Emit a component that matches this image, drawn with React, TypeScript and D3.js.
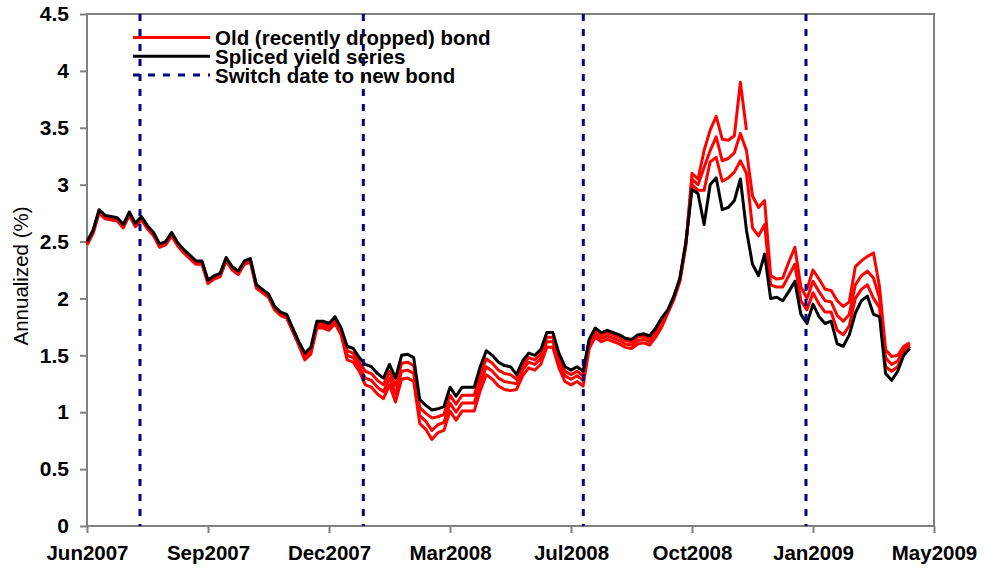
import { useEffect, useRef } from 'react';
import * as d3 from 'd3';

// category axis: one point per sampled trading day, labels every 20 points
const tickLabels = ['Jun2007', 'Sep2007', 'Dec2007', 'Mar2008', 'Jul2008', 'Oct2008', 'Jan2009', 'May2009'];
const yTicks = [0, 0.5, 1, 1.5, 2, 2.5, 3, 3.5, 4, 4.5];

// switch dates to a new bond (in sample index units)
const switchDates = [8.76, 45.67, 82.03, 118.84];

const spliced = [
  2.50, 2.60, 2.78, 2.73, 2.72, 2.71, 2.65, 2.76, 2.66, 2.72,
  2.64, 2.58, 2.48, 2.50, 2.58, 2.49, 2.43, 2.38, 2.33, 2.33,
  2.16, 2.20, 2.22, 2.36, 2.28, 2.24, 2.33, 2.35, 2.12, 2.08,
  2.04, 1.93, 1.88, 1.86, 1.74, 1.62, 1.52, 1.57, 1.80, 1.80,
  1.78, 1.84, 1.74, 1.58, 1.56, 1.48, 1.42, 1.40, 1.34, 1.30,
  1.42, 1.30, 1.50, 1.51, 1.48, 1.11, 1.06, 1.02, 1.03, 1.05,
  1.22, 1.14, 1.22, 1.22, 1.22, 1.40, 1.54, 1.50, 1.44, 1.41,
  1.40, 1.33, 1.45, 1.52, 1.50, 1.55, 1.70, 1.70, 1.52, 1.40,
  1.37, 1.40, 1.36, 1.64, 1.74, 1.70, 1.72, 1.70, 1.68, 1.65,
  1.64, 1.68, 1.69, 1.67, 1.74, 1.83, 1.90, 2.02, 2.18, 2.50,
  2.96, 2.92, 2.65, 3.00, 3.06, 2.78, 2.80, 2.86, 3.05, 2.60,
  2.30, 2.20, 2.39, 2.00, 2.01, 1.98, 2.06, 2.15, 1.86, 1.78,
  1.95, 1.84, 1.78, 1.80, 1.60, 1.58, 1.68, 1.87, 1.98, 2.02,
  1.86, 1.84, 1.34, 1.28, 1.36, 1.50, 1.56,
];

const oldBondA = [
  2.49, 2.59, 2.77, 2.72, 2.71, 2.70, 2.64, 2.75, 2.65, 2.71,
  2.63, 2.57, 2.47, 2.49, 2.57, 2.48, 2.42, 2.37, 2.32, 2.32,
  2.15, 2.19, 2.21, 2.35, 2.27, 2.23, 2.32, 2.34, 2.11, 2.07,
  2.03, 1.92, 1.87, 1.85, 1.73, 1.61,
  1.50, 1.55, 1.78, 1.78, 1.76, 1.82, 1.72, 1.54, 1.52, 1.44,
  1.36, 1.34, 1.28, 1.24, 1.36,
  1.23, 1.43, 1.44, 1.41, 1.04, 0.99, 0.95, 0.96, 0.98, 1.15,
  1.07, 1.15, 1.15, 1.15, 1.33, 1.47, 1.43, 1.37, 1.34, 1.33,
  1.29, 1.41, 1.48, 1.46, 1.51, 1.66, 1.66, 1.48, 1.36, 1.33, 1.36, 1.32,
  1.62, 1.72, 1.68, 1.70, 1.68, 1.66, 1.63, 1.62, 1.66, 1.67, 1.65, 1.72, 1.81,
  1.89, 2.01, 2.17, 2.49,
  3.00, 2.95, 2.95, 3.20, 3.24, 3.03, 3.06, 3.11, 3.21, 3.10,
  2.62, 2.55, 2.65, 2.12, 2.10, 2.10, 2.20, 2.30, 1.98,
  1.90, 2.05, 1.95, 1.88, 1.88, 1.72, 1.68, 1.76, 2.00, 2.08,
  2.12, 2.00, 1.92, 1.40, 1.36, 1.40, 1.52, 1.58,
];

const oldBondB = [
  2.48, 2.58, 2.76, 2.71, 2.70, 2.69, 2.63, 2.74, 2.64, 2.70,
  2.62, 2.56, 2.46, 2.48, 2.56, 2.47, 2.41, 2.36, 2.31, 2.31,
  2.14, 2.18, 2.20, 2.34, 2.26, 2.22, 2.31, 2.33, 2.10, 2.06,
  2.02, 1.91, 1.86, 1.84, 1.72, 1.60,
  1.48, 1.53, 1.76, 1.76, 1.74, 1.80, 1.70, 1.50, 1.48, 1.40,
  1.30, 1.28, 1.22, 1.18, 1.30,
  1.16, 1.36, 1.37, 1.34, 0.97, 0.92, 0.84, 0.89, 0.91, 1.08,
  1.00, 1.08, 1.08, 1.08, 1.26, 1.40, 1.36, 1.30, 1.27, 1.26,
  1.25, 1.37, 1.44, 1.42, 1.47, 1.62, 1.62, 1.44, 1.32, 1.29, 1.32, 1.28,
  1.59, 1.69, 1.65, 1.67, 1.65, 1.63, 1.60, 1.59, 1.63, 1.64, 1.62, 1.69, 1.78,
  1.88, 2.00, 2.16, 2.48,
  3.05, 3.00, 3.15, 3.30, 3.42, 3.21, 3.23, 3.28, 3.45, 3.30,
  2.90, 2.80, 2.86, 2.20, 2.17, 2.18, 2.32, 2.45, 2.10,
  2.00, 2.15, 2.06, 1.98, 1.97, 1.85, 1.80, 1.86, 2.12, 2.20,
  2.24, 2.18, 2.00, 1.48, 1.42, 1.45, 1.55, 1.60,
];

const oldBondC = [
  2.47, 2.57, 2.75, 2.70, 2.69, 2.68, 2.62, 2.73, 2.63, 2.69,
  2.61, 2.55, 2.45, 2.47, 2.55, 2.46, 2.40, 2.35, 2.30, 2.30,
  2.13, 2.17, 2.19, 2.33, 2.25, 2.21, 2.30, 2.32, 2.09, 2.05,
  2.01, 1.90, 1.85, 1.83, 1.71, 1.59,
  1.46, 1.51, 1.74, 1.74, 1.72, 1.78, 1.68, 1.46, 1.44, 1.36,
  1.24, 1.22, 1.16, 1.12, 1.24,
  1.09, 1.29, 1.30, 1.27, 0.90, 0.85, 0.76, 0.82, 0.84, 1.01,
  0.93, 1.01, 1.01, 1.01, 1.19, 1.33, 1.29, 1.23, 1.20, 1.19,
  1.20, 1.32, 1.39, 1.37, 1.42, 1.57, 1.57, 1.39, 1.27, 1.24, 1.27, 1.23,
  1.56, 1.66, 1.62, 1.64, 1.62, 1.60, 1.57, 1.56, 1.60, 1.61, 1.59, 1.66, 1.75,
  1.87, 1.99, 2.15, 2.47,
  3.10, 3.05, 3.30, 3.48, 3.60, 3.40, 3.39, 3.43, 3.90, 3.48,
  null, null, null, null, null, null, null, null, null,
  2.08, 2.25, 2.17, 2.08, 2.07, 1.98, 1.93, 1.97, 2.28, 2.33,
  2.37, 2.40, 2.10, 1.55, 1.49, 1.50, 1.58, 1.61,
];

const legendLabels = ['Old (recently dropped) bond', 'Spliced yield series', 'Switch date to new bond'];

const FONT = "'Liberation Sans', Arial, Helvetica, sans-serif";

export default function App() {
  const svgRef = useRef<SVGSVGElement>(null);

  useEffect(() => {
    if (!svgRef.current) return;
    const svg = d3.select(svgRef.current);
    svg.selectAll('*').remove();

    const x = d3.scaleLinear().domain([0, 140]).range([87, 934]);
    const y = d3.scaleLinear().domain([0, 4.5]).range([526, 14]);
    const [x0, x1] = x.range();
    const [yb, yt] = y.range();

    // plot frame
    svg
      .append('rect')
      .attr('x', x0)
      .attr('y', yt)
      .attr('width', x1 - x0)
      .attr('height', yb - yt)
      .attr('fill', 'none')
      .attr('stroke', '#808080')
      .attr('stroke-width', 2);

    const yAxis = svg
      .append('g')
      .attr('transform', `translate(${x0},0)`)
      .call(
        d3
          .axisLeft(y)
          .tickValues(yTicks)
          .tickSize(7)
          .tickPadding(11)
          .tickFormat((d) => String(d))
      )
      .attr('font-size', 21)
      .attr('font-family', FONT)
      .attr('font-weight', 'bold');
    yAxis.select('.domain').remove();
    yAxis.selectAll('line').attr('stroke', '#808080').attr('stroke-width', 2);
    yAxis.selectAll('text').attr('fill', '#000');

    const xAxis = svg
      .append('g')
      .attr('transform', `translate(0,${yb})`)
      .call(
        d3
          .axisBottom(x)
          .tickValues(tickLabels.map((_, k) => k * 20))
          .tickSize(7)
          .tickPadding(12)
          .tickFormat((_, k) => tickLabels[k])
      )
      .attr('font-size', 20.5)
      .attr('font-family', FONT)
      .attr('font-weight', 'bold');
    xAxis.select('.domain').remove();
    xAxis.selectAll('line').attr('stroke', '#808080').attr('stroke-width', 2);
    xAxis.selectAll('text').attr('fill', '#000');

    svg
      .append('text')
      .attr('transform', `translate(28,${(yb + yt) / 2 + 6}) rotate(-90)`)
      .attr('text-anchor', 'middle')
      .attr('font-family', FONT)
      .attr('font-size', 20.5)
      .text('Annualized (%)');

    const line = d3
      .line<number | null>()
      .defined((d) => d != null)
      .x((_, i) => x(i))
      .y((d) => y(d as number));

    [oldBondC, oldBondB, oldBondA].forEach((s) => {
      svg
        .append('path')
        .attr('d', line(s))
        .attr('fill', 'none')
        .attr('stroke', '#ff0000')
        .attr('stroke-width', 3)
        .attr('stroke-linejoin', 'round');
    });

    svg
      .append('path')
      .attr('d', line(spliced))
      .attr('fill', 'none')
      .attr('stroke', '#000')
      .attr('stroke-width', 3)
      .attr('stroke-linejoin', 'round');

    svg
      .selectAll('line.switch')
      .data(switchDates)
      .join('line')
      .attr('class', 'switch')
      .attr('x1', (d) => x(d))
      .attr('x2', (d) => x(d))
      .attr('y1', yt)
      .attr('y2', yb)
      .attr('stroke', '#000080')
      .attr('stroke-width', 3)
      .attr('stroke-dasharray', '7 8');

    // legend
    const lg = svg.append('g').attr('font-family', FONT).attr('font-size', 20.5).attr('font-weight', 'bold');
    const styles = [
      { stroke: '#ff0000', dash: null },
      { stroke: '#000', dash: null },
      { stroke: '#000080', dash: '7 8' },
    ];
    legendLabels.forEach((label, k) => {
      const cy = 37.5 + k * 18.8;
      lg.append('line')
        .attr('x1', 133)
        .attr('x2', 210)
        .attr('y1', cy)
        .attr('y2', cy)
        .attr('stroke', styles[k].stroke)
        .attr('stroke-width', 3)
        .attr('stroke-dasharray', styles[k].dash);
      lg.append('text').attr('x', 215).attr('y', cy + 7.5).text(label);
    });
  }, []);

  return (
    <svg
      ref={svgRef}
      width={985}
      height={575}
      style={{ position: 'absolute', left: 0, top: 0, background: '#fff' }}
    />
  );
}
